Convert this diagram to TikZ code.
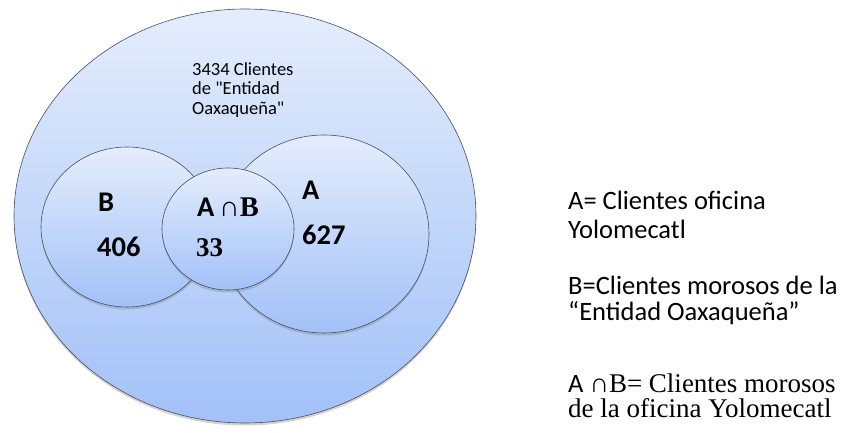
\documentclass[tikz,border=0pt]{standalone}
\usepackage{fontspec}
\setmainfont{Carlito}
\newfontfamily\tnr{Liberation Serif}
\usetikzlibrary{shapes.geometric,shadows}
\definecolor{vtop}{RGB}{228,237,252}
\definecolor{vbot}{RGB}{162,193,248}
\definecolor{vline}{RGB}{72,80,100}

\begin{document}
\begin{tikzpicture}[x=1pt,y=1pt,
 set/.style={ellipse,draw=vline,line width=.6pt,top color=vtop,bottom color=vbot,inner sep=0pt,
  drop shadow={opacity=.35,shadow xshift=0pt,shadow yshift=-2.5pt}},
 txt/.style={anchor=base west,inner sep=0pt,font=\fontsize{18.5}{20}\selectfont\addfontfeature{Ligatures=TeXOff}},
 num/.style={anchor=base west,inner sep=0pt,font=\fontsize{28.5}{30}\selectfont\bfseries},
 leg/.style={anchor=base west,inner sep=0pt,font=\fontsize{26.5}{27}\selectfont},
 legs/.style={anchor=base west,inner sep=0pt,font=\fontsize{27}{27}\selectfont\tnr}]
\useasboundingbox (0,0) rectangle (841,433);
% sets
\node[set,minimum width=462,minimum height=414] (univ) at (245,217) {};
\node[set,minimum width=172,minimum height=160] (setB) at (127,206) {};
\node[set,minimum width=210,minimum height=198] (setA) at (324,199) {};
\node[set,minimum width=132,minimum height=122] (setAB) at (228,204) {};
% labels
\node[txt] (tot1) at (192,357) {3434 Clientes};
\node[txt] (tot2) at (192,338) {de "Entidad};
\node[txt] (tot3) at (192,318) {Oaxaqueña"};
\node[num] (labB) at (98,221) {B};
\node[num] (numB) at (97,176) {406};
\node[num] (labAB) at (197,216) {A\,{\tnr\mdseries ∩}{\tnr B}};
\node[num,font=\fontsize{27}{30}\selectfont\bfseries] (numAB) at (196,176) {\tnr 33};
\node[num] (labA) at (302,233) {A};
\node[num] (numA) at (302,188) {627};
% legend
\node[leg] (legA1) at (568,223) {A= Clientes oficina};
\node[leg] (legA2) at (568,194) {Yolomecatl};
\node[leg] (legB1) at (568,138) {B=Clientes morosos de la};
\node[leg] (legB2) at (568,112) {“Entidad Oaxaqueña”};
\node[leg] (legAB1) at (568,40) {A {\tnr\fontsize{27}{27}\selectfont ∩B= Clientes morosos}};
\node[legs] (legAB2) at (568,15) {de la oficina Yolomecatl};
\end{tikzpicture}
\end{document}
